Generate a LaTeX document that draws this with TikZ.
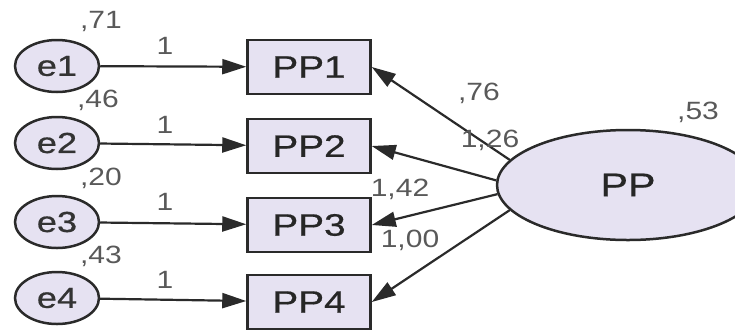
\documentclass[tikz,border=0pt]{standalone}
\usepackage{fontspec}
\setmainfont{Liberation Sans}[FakeStretch=1.25,FakeBold=0.6]
\newfontfamily\labfont{Liberation Sans}[FakeStretch=1.2]
\usetikzlibrary{shapes.geometric,arrows.meta}
\definecolor{fillc}{HTML}{E6E2F2}
\definecolor{linec}{HTML}{2A2A2A}
\begin{document}
\begin{tikzpicture}[x=1pt,y=-1pt,
  err/.style={ellipse,draw=linec,line width=2.5pt,fill=fillc,minimum width=84pt,minimum height=52pt,inner sep=0pt,font=\fontsize{29}{29}\selectfont,text=black!80},
  obs/.style={rectangle,draw=linec,line width=2.5pt,fill=fillc,minimum width=123pt,minimum height=54pt,inner sep=0pt,font=\fontsize{31}{31}\selectfont,text=black!85},
  lat/.style={ellipse,draw=linec,line width=2.5pt,fill=fillc,minimum width=262pt,minimum height=110pt,inner sep=0pt,font=\fontsize{33}{33}\selectfont,text=black!85},
  arr/.style={draw=linec,line width=2.2pt,-{Triangle[length=24pt,width=15pt]}},
  lab/.style={font=\labfont\fontsize{25}{25}\selectfont,text=black!65,inner sep=0pt},
]
\useasboundingbox (0,0) rectangle (735,333);
\begin{scope}
\clip (0,0) rectangle (735,333);
\node[err] (e1) at (57,66) {e1};
\node[err] (e2) at (57,143) {e2};
\node[err] (e3) at (57,222) {e3};
\node[err] (e4) at (57,298) {e4};
\node[obs] (p1) at (309,67) {PP1};
\node[obs] (p2) at (309,146) {PP2};
\node[obs] (p3) at (309,225) {PP3};
\node[obs] (p4) at (309,302) {PP4};
\node[lat] (pp) at (628,185) {PP};
\draw[arr] (e1) -- (p1);
\draw[arr] (e2) -- (p2);
\draw[arr] (e3) -- (p3);
\draw[arr] (e4) -- (p4);
\draw[arr] (pp.168) -- (p1.east);
\draw[arr] (pp.178) -- (p2.east);
\draw[arr] (pp.184) -- (p3.east);
\draw[arr] (pp.192) -- (p4.east);
\node[lab] (v1) at (101,21) {,71};
\node[lab] (v2) at (98,100) {,46};
\node[lab] (v3) at (101,178) {,20};
\node[lab] (v4) at (101,256) {,43};
\node[lab] (o1) at (165,46) {1};
\node[lab] (o2) at (165,125) {1};
\node[lab] (o3) at (165,202) {1};
\node[lab] (o4) at (165,280) {1};
\node[lab] (l1) at (479,93) {,76};
\node[lab] (l2) at (490,140) {1,26};
\node[lab] (l3) at (400,189) {1,42};
\node[lab] (l4) at (410,240) {1,00};
\node[lab] (vp) at (698,112) {,53};
\end{scope}
\end{tikzpicture}
\end{document}
